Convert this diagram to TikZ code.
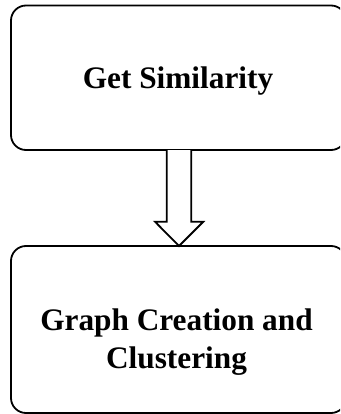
\documentclass[tikz,border=0pt]{standalone}
\usepackage{fontspec}
\setmainfont{Liberation Serif}
\usetikzlibrary{calc}
\begin{document}
\begin{tikzpicture}[x=1pt,y=-1pt,
  box/.style={draw=black,line width=1.8pt,rounded corners=15pt,minimum width=335pt,inner sep=0pt,outer sep=0pt},
  lbl/.style={font=\fontsize{31.3}{38}\selectfont\bfseries,align=center,inner sep=0pt},
  blockarrow/.style={draw=black,line width=1.8pt,fill=white,line join=miter}]
\useasboundingbox (0,0) rectangle (340,414);
\clip (0,0) rectangle (340,414);
\node[box,minimum height=144.5pt] (top) at (178.5,77.75) {};
\node[box,minimum height=167pt] (bot) at (178.5,329.5) {};
\node[lbl] (t1) at (178,80.7) {Get Similarity};
\node[lbl] (t2) at (176.5,341.7) {Graph Creation and\\Clustering};
\draw[blockarrow]
  ($(top.south)+(-11.8,0)$) -- ($(top.south)+(-11.8,71.7)$) --
  ($(top.south)+(-23.5,71.7)$) -- ($(bot.north)+(0.5,0)$) --
  ($(top.south)+(24.8,71.7)$) -- ($(top.south)+(12.8,71.7)$) --
  ($(top.south)+(12.8,0)$);
\end{tikzpicture}
\end{document}
